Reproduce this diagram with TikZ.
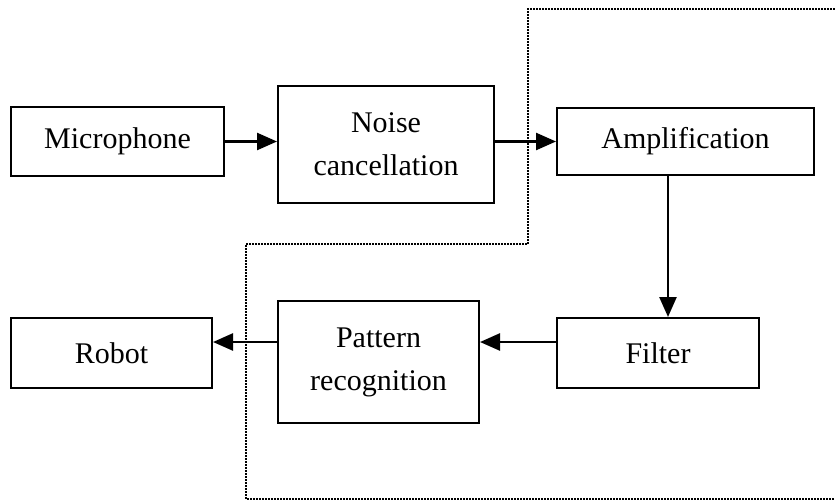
\documentclass[tikz,border=0pt]{standalone}
\usepackage{fontspec}
\setmainfont{Liberation Serif}
\usetikzlibrary{arrows.meta}
\begin{document}
\begin{tikzpicture}[x=1pt,y=-1pt,
  blockbox/.style={draw,line width=2pt,rectangle,inner sep=0pt,align=center,
    font=\fontsize{30}{43}\selectfont},
  flow/.style={line width=2.5pt,-{Triangle[length=20pt,width=17pt]}},
  border/.style={line width=1.6pt,dash pattern=on 1.6pt off 1.4pt}]
\useasboundingbox (0,0) rectangle (835,501);
\node[blockbox,minimum width=213pt,minimum height=69pt] (mic) at (117.5,141.5) {Microphone};
\node[blockbox,minimum width=216pt,minimum height=117pt] (noise) at (386,144.5) {Noise\\cancellation};
\node[blockbox,minimum width=257pt,minimum height=67pt] (amp) at (685.5,141.5) {Amplification};
\node[blockbox,minimum width=202pt,minimum height=70pt] (filter) at (658,353) {Filter};
\node[blockbox,minimum width=201pt,minimum height=122pt] (pattern) at (378.5,362) {Pattern\\recognition};
\node[blockbox,minimum width=201pt,minimum height=70pt] (robot) at (111.5,353) {Robot};
\coordinate (tr) at (835,9);
\coordinate (br) at (835,499);
\draw[border] (tr) -- (528,9) -- (528,244) -- (246,244) -- (246,499) -- (br);
\draw[flow] (mic.east) -- (mic.east -| noise.west);
\draw[flow] (amp.west -| noise.east) -- (amp.west);
\draw[flow] ([xshift=112pt]amp.south west) -- ([xshift=112pt]filter.north west -| amp.south west);
\draw[flow] ([yshift=11pt]filter.west) -- ([yshift=11pt]filter.west -| pattern.east);
\draw[flow] ([yshift=20pt]pattern.west) -- ([yshift=20pt]pattern.west -| robot.east);
\end{tikzpicture}
\end{document}
